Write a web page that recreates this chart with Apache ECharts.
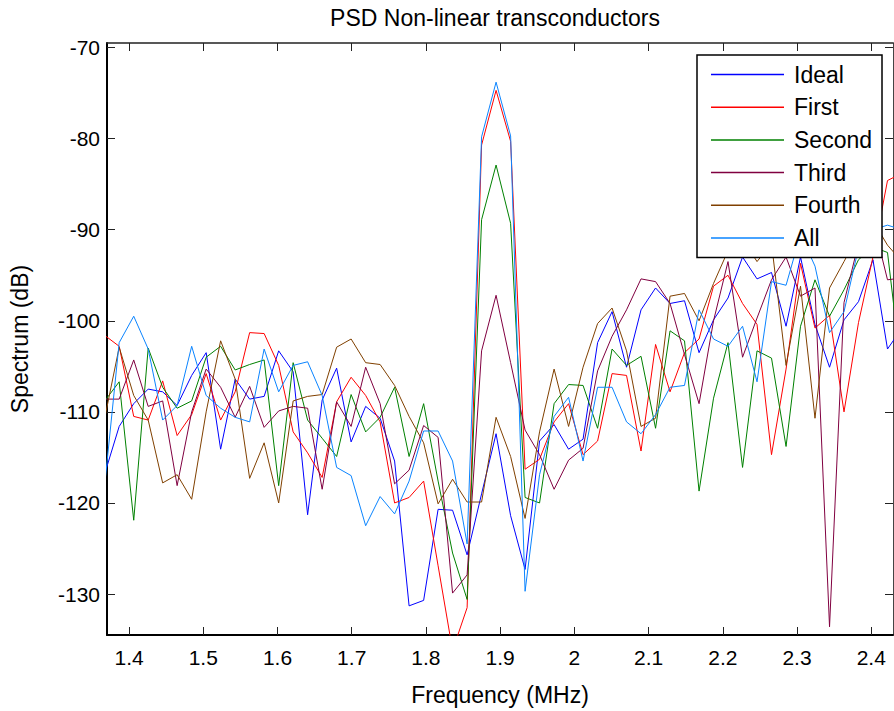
<!DOCTYPE html>
<html>
<head>
<meta charset="utf-8">
<script src="https://cdn.jsdelivr.net/npm/echarts/dist/echarts.min.js"></script>
<style>
html,body{margin:0;padding:0;background:#fff;}
#chart{width:894px;height:711px;}
</style>
</head>
<body>
<div id="chart"></div>
<script>
const freq = [1.3672,1.3867,1.4063,1.4258,1.4453,1.4648,1.4844,1.5039,1.5234,1.5430,
1.5625,1.5820,1.6016,1.6211,1.6406,1.6602,1.6797,1.6992,1.7188,1.7383,
1.7578,1.7773,1.7969,1.8164,1.8359,1.8555,1.8750,1.8945,1.9141,1.9336,
1.9531,1.9727,1.9922,2.0117,2.0313,2.0508,2.0703,2.0898,2.1094,2.1289,
2.1484,2.1680,2.1875,2.2070,2.2266,2.2461,2.2656,2.2852,2.3047,2.3242,
2.3438,2.3633,2.3828,2.4023,2.4219,2.4414];

const ideal = [-116.8,-111.6,-109.1,-107.5,-107.8,-109.3,-106.0,-103.5,-114.1,-106.4,
-108.6,-108.3,-103.3,-105.6,-121.3,-108.7,-105.2,-113.3,-109.4,-110.7,
-115.4,-131.3,-130.7,-120.7,-120.8,-125.7,-119.0,-112.4,-121.4,-127.3,
-113.2,-111.4,-114.1,-113.0,-102.4,-99.0,-105.1,-98.8,-96.4,-98.1,
-97.8,-103.5,-99.9,-97.5,-93.0,-95.4,-94.7,-100.6,-93.0,-100.4,
-105.1,-99.9,-97.9,-93.3,-103.1,-100.8];

const first = [-101.6,-102.8,-110.5,-110.9,-106.6,-112.6,-110.3,-105.8,-110.9,-107.8,
-101.3,-101.4,-104.9,-112.2,-114.5,-117.2,-108.9,-106.2,-108.2,-111.1,
-120.0,-119.4,-117.6,-126.9,-136.2,-131.5,-80.7,-74.7,-80.3,-116.3,
-115.2,-111.1,-109.1,-114.7,-113.2,-105.8,-106.0,-114.3,-102.6,-107.8,
-103.5,-102.0,-96.2,-95.0,-98.1,-100.4,-114.7,-105.3,-93.7,-100.8,
-99.4,-110.0,-100.2,-93.0,-84.6,-83.8];

const second = [-108.8,-106.7,-121.9,-103.0,-107.3,-109.6,-108.8,-104.0,-102.8,-105.4,
-104.8,-104.3,-118.1,-104.6,-110.9,-112.9,-114.9,-108.1,-112.2,-110.6,
-107.3,-114.9,-109.1,-117.6,-125.5,-130.6,-88.9,-82.9,-89.3,-119.4,
-120.0,-109.1,-107.0,-107.1,-111.8,-103.1,-104.9,-103.9,-111.8,-101.1,
-102.2,-118.7,-108.5,-102.4,-116.1,-103.3,-104.1,-113.8,-100.6,-95.5,
-99.5,-96.6,-93.3,-91.9,-92.5,-106.0];

const third = [-108.6,-108.6,-104.3,-109.4,-108.8,-118.1,-110.0,-105.3,-107.3,-110.6,
-107.2,-111.7,-109.9,-109.4,-109.6,-118.5,-108.9,-111.6,-105.1,-109.1,
-117.9,-116.4,-111.5,-112.8,-129.9,-127.9,-103.3,-97.2,-104.6,-112.0,
-114.7,-118.5,-115.3,-114.0,-105.5,-101.7,-98.8,-95.4,-95.7,-98.1,
-103.7,-109.1,-100.0,-93.5,-104.0,-99.7,-95.5,-93.0,-97.3,-96.4,
-133.6,-98.0,-91.5,-89.0,-95.5,-95.3];

const fourth = [-110.7,-102.9,-108.2,-110.9,-117.8,-116.9,-119.6,-110.0,-102.2,-106.4,
-117.3,-113.4,-120.0,-108.8,-108.3,-108.1,-102.9,-102.0,-104.6,-104.8,
-107.1,-110.5,-113.4,-120.1,-117.4,-119.9,-119.9,-110.6,-114.9,-121.7,
-112.2,-105.3,-111.6,-105.1,-100.3,-98.6,-103.3,-111.6,-110.7,-97.3,
-97.0,-100.0,-95.9,-92.3,-91.0,-93.5,-91.5,-104.9,-96.2,-110.7,
-96.4,-93.5,-90.5,-89.0,-91.7,-93.5];

const all = [-118.0,-102.4,-99.5,-103.1,-110.9,-109.3,-102.8,-108.2,-109.6,-110.6,
-111.1,-103.1,-107.8,-104.9,-104.5,-108.2,-116.1,-117.0,-122.5,-119.3,
-121.2,-117.6,-112.1,-112.1,-115.4,-124.5,-79.8,-73.8,-79.7,-129.7,
-116.9,-110.5,-108.4,-115.4,-107.3,-107.3,-111.1,-112.4,-110.3,-107.3,
-107.1,-98.8,-102.0,-102.8,-100.6,-106.7,-95.7,-96.1,-90.5,-94.0,
-101.3,-99.0,-92.0,-90.0,-89.5,-90.0];

const seriesNames = ['Ideal','First','Second','Third','Fourth','All'];
const seriesColors = ['#0000ff','#ff0000','#008000','#800040','#804000','#0a84ff'];
const seriesValues = [ideal, first, second, third, fourth, all];

const xTicks = [1.4,1.5,1.6,1.7,1.8,1.9,2,2.1,2.2,2.3,2.4];
const yTicks = [-130,-120,-110,-100,-90,-80,-70];

const FONT = '"Liberation Sans", Arial, Helvetica, sans-serif';
const xMin = 1.3703, xMax = 2.4293, yMin = -134.5, yMax = -69.5;

const chart = echarts.init(document.getElementById('chart'), null, {renderer:'svg'});

function mkX(pos, main){
  return {
    type:'value', min:xMin, max:xMax, position:pos,
    name: main ? 'Frequency (MHz)' : '',
    nameLocation:'middle', nameGap:48,
    nameTextStyle:{fontSize:23, color:'#000', fontFamily:FONT},
    axisLine:{show:true, onZero:false, lineStyle:{color: main ? '#000' : '#222', width: main ? 2 : 1.5}},
    axisTick:{show:true, inside:true, length:8, customValues:xTicks, lineStyle:{color:'#222', width:1}},
    axisLabel:{show:main, customValues:xTicks, fontSize:21, color:'#000', margin:12, fontFamily:FONT},
    splitLine:{show:false}
  };
}
function mkY(pos, main){
  return {
    type:'value', min:yMin, max:yMax, position:pos,
    name: main ? 'Spectrum (dB)' : '',
    nameLocation:'middle', nameGap:76,
    nameTextStyle:{fontSize:23, color:'#000', fontFamily:FONT},
    axisLine:{show:true, onZero:false, lineStyle:{color: main ? '#000' : '#444', width: main ? 2 : 1}},
    axisTick:{show:true, inside:true, length:8, customValues:yTicks, lineStyle:{color:'#222', width:1}},
    axisLabel:{show:main, customValues:yTicks, fontSize:21, color:'#000', margin:7, fontFamily:FONT, padding:[6,0,0,0]},
    splitLine:{show:false}
  };
}

const option = {
  animation:false,
  backgroundColor:'#fff',
  grid:{left:98, top:43, width:795, height:599.5, containLabel:false},
  graphic:[{
    type:'text', x:495, y:18, silent:true,
    style:{text:'PSD Non-linear transconductors', fill:'#000', fontSize:23, fontFamily:FONT,
      align:'center', verticalAlign:'middle', textAlign:'center', textVerticalAlign:'middle'}
  }],
  legend:{
    orient:'vertical', left:697, top:55,
    padding:[8,10,8,14],
    itemWidth:73, itemHeight:1.5, itemGap:9.7, icon:'rect',
    backgroundColor:'#fff', borderColor:'#000', borderWidth:1.5,
    textStyle:{fontSize:23, fontFamily:FONT, color:'#000', lineHeight:23, padding:[0,0,0,5]},
    data: seriesNames
  },
  xAxis:[mkX('bottom', true), mkX('top', false)],
  yAxis:[mkY('left', true), mkY('right', false)],
  series: seriesNames.map((n,i)=>({
    name:n, type:'line', xAxisIndex:0, yAxisIndex:0,
    data: freq.map((f,j)=>[f, seriesValues[i][j]]),
    showSymbol:false, symbol:'none', clip:true,
    lineStyle:{width:1, color:seriesColors[i]},
    itemStyle:{color:seriesColors[i]},
    emphasis:{disabled:true}
  }))
};
chart.setOption(option);
</script>
</body>
</html>
